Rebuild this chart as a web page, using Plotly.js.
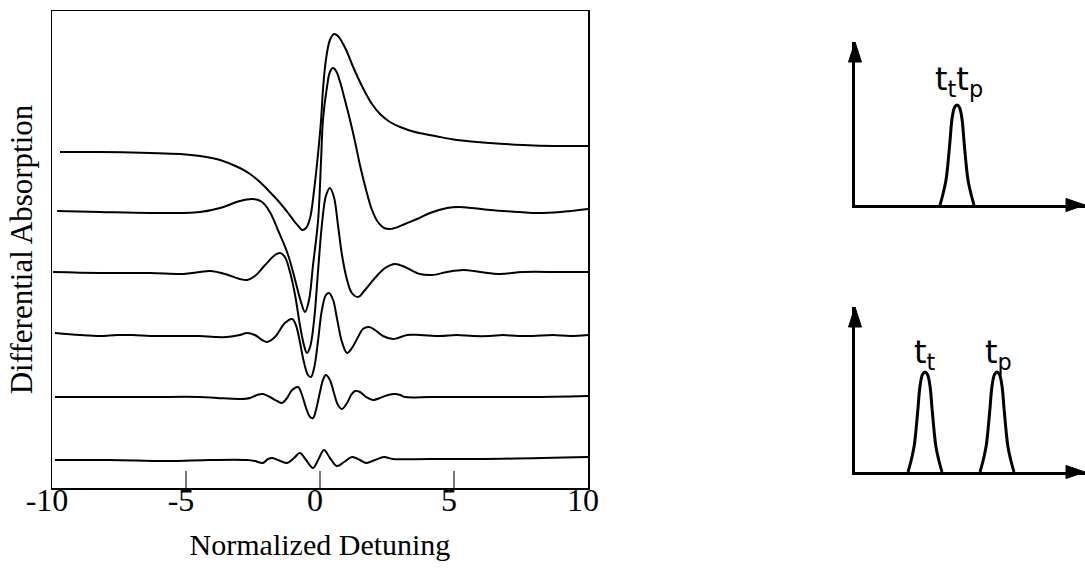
<!DOCTYPE html>
<html>
<head>
<meta charset="utf-8">
<script src="https://cdn.plot.ly/plotly-3.0.1.min.js"></script>
<style>
  html, body { margin: 0; padding: 0; background: #fff; }
  #chart { width: 1085px; height: 568px; }
</style>
</head>
<body>
<div id="chart"></div>
<script>
// ---- Data (normalized detuning vs. offset differential absorption, arb. units) ----
const det1 = [-9.70,-8.21,-6.34,-5.22,-4.48,-3.73,-2.99,-2.61,-2.24,-1.87,-1.49,-1.19,-0.97,-0.78,-0.67,-0.52,-0.37,-0.22,-0.07,0.04,0.11,0.22,0.37,0.52,0.67,0.82,1.01,1.19,1.42,1.68,1.94,2.24,2.61,2.99,3.54,4.29,5.11,6.34,7.57,8.77,10.0];
const abs1 = [336,336,335,334,332,328,320,314,306,296,285,275,267,261,258,260,270,298,335,368,398,428,448,454,452,446,436,424,410,396,384,374,366,361,356,352,348,345,343,342,342];

const det2 = [-9.81,-8.21,-6.34,-4.48,-3.73,-2.99,-2.50,-2.16,-1.87,-1.57,-1.19,-0.90,-0.71,-0.56,-0.41,-0.26,-0.07,0.04,0.11,0.26,0.37,0.49,0.60,0.75,0.93,1.12,1.31,1.49,1.72,1.94,2.16,2.39,2.61,2.91,3.17,3.62,4.10,4.74,5.22,6.34,7.46,8.10,8.96,10.0];
const abs2 = [277,276,275,276,280,287,289,286,276,258,233,205,186,176,188,223,268,328,368,401,416,420,417,406,388,368,346,323,298,278,266,260,259,261,264,269,275,280,281,278,276,275,276,279];

const det3 = [-9.96,-8.21,-6.34,-5.11,-4.48,-4.10,-3.54,-2.99,-2.72,-2.43,-2.05,-1.68,-1.49,-1.31,-1.12,-0.93,-0.75,-0.60,-0.49,-0.37,-0.22,-0.07,0.07,0.22,0.37,0.52,0.67,0.82,1.01,1.19,1.42,1.68,2.05,2.43,2.80,3.17,3.73,4.18,4.74,5.34,5.97,6.72,7.57,8.96,10.0];
const abs3 = [216,215,215,214,216,217,214,209,208,212,223,233,235,231,216,193,163,143,135,141,168,218,263,292,300,291,263,233,208,195,191,198,210,220,224,221,214,213,216,218,216,214,216,216,216];

const det4 = [-9.89,-8.96,-8.21,-7.57,-6.98,-6.34,-5.71,-5.04,-4.48,-3.92,-3.47,-2.99,-2.72,-2.43,-2.16,-1.98,-1.68,-1.31,-1.04,-0.90,-0.75,-0.60,-0.45,-0.34,-0.22,-0.07,0.07,0.22,0.34,0.49,0.63,0.82,1.01,1.19,1.42,1.60,1.83,2.05,2.35,2.72,2.91,3.25,3.73,4.48,5.11,5.71,6.34,6.83,7.39,7.95,8.69,9.33,10.0];
const abs4 = [155,153,152,153,153,152,152,152,152,151,151,153,155,153,148,146,151,165,169,163,146,126,113,111,120,148,178,193,195,188,170,146,135,140,151,159,161,158,152,149,150,153,153,152,153,152,152,153,152,152,153,152,153];

const det5 = [-9.89,-8.21,-6.34,-4.48,-3.84,-2.99,-2.61,-2.35,-2.13,-1.87,-1.60,-1.42,-1.23,-1.04,-0.82,-0.67,-0.52,-0.37,-0.26,-0.15,0.00,0.11,0.22,0.37,0.52,0.67,0.82,1.01,1.16,1.31,1.49,1.72,1.98,2.24,2.54,2.80,2.99,3.17,4.10,4.85,6.08,7.84,10.0];
const abs5 = [91,91,91,91,90,89,90,93,94,91,87,85,90,98,101,93,80,71,70,78,96,108,113,108,95,83,79,85,93,97,96,91,88,90,93,94,93,91,91,91,91,91,92];

const det6 = [-9.89,-7.84,-5.71,-4.10,-2.72,-2.43,-2.13,-1.94,-1.79,-1.57,-1.23,-0.97,-0.75,-0.52,-0.26,-0.07,0.15,0.37,0.63,0.90,1.19,1.49,1.72,2.05,2.39,2.72,4.10,6.08,10.0];
const abs6 = [28,28,27,28,28,27,25,29,30,28,25,30,35,28,20,28,38,30,22,26,31,28,25,28,31,29,29,29,31];

const detuningTicks = [-10, -5, 0, 5, 10];
const detuningTickText = ['-10', '-5', '0', '5', '10'];

// Pulse diagrams (time in arb. units, normalized intensity)
const pulseOffset = [-1.7,-1.4,-1.1,-0.9,-0.7,-0.5,-0.25,0,0.25,0.5,0.7,0.9,1.1,1.4,1.7];
const pulseShape  = [0,0.11,0.25,0.42,0.64,0.86,0.975,1,0.975,0.86,0.64,0.42,0.25,0.11,0];
const overlapCenter = 10.2;          // top panel: both pulses coincide
const testCenter = 7.0, probeCenter = 14.2;   // bottom panel: separated pulses
const labelTop = 't<sub>t</sub>t<sub>p</sub>';
const labelTest = 't<sub>t</sub>';
const labelProbe = 't<sub>p</sub>';

// ---- Geometry helpers (pixel -> paper), layout only ----
const L = 52, T = 11, W = 1033, H = 477;
const PX = p => (p - L) / W;
const PY = p => (T + H - p) / H;

const curves = [[det1,abs1],[det2,abs2],[det3,abs3],[det4,abs4],[det5,abs5],[det6,abs6]];
const traces = curves.map(([x, y]) => ({
  x: x, y: y, type: 'scatter', mode: 'lines',
  line: {color: '#000', width: 2, shape: 'spline', smoothing: 1},
  xaxis: 'x', yaxis: 'y', hoverinfo: 'skip', showlegend: false
}));

function pulse(center, xa, ya) {
  return {
    x: pulseOffset.map(o => center + o), y: pulseShape,
    type: 'scatter', mode: 'lines',
    line: {color: '#000', width: 3, shape: 'spline', smoothing: 1},
    xaxis: xa, yaxis: ya, hoverinfo: 'skip', showlegend: false, cliponaxis: false
  };
}
traces.push(pulse(overlapCenter, 'x2', 'y2'));
traces.push(pulse(testCenter, 'x3', 'y3'));
traces.push(pulse(probeCenter, 'x3', 'y3'));

const serif = 'Liberation Serif, Times New Roman, serif';
const sans = 'DejaVu Sans, sans-serif';
const insetAxisX = {showline: true, linewidth: 3, linecolor: '#000', showticklabels: false,
  ticks: '', showgrid: false, zeroline: false, range: [0, 23], fixedrange: true};
const insetAxisY = {showline: true, linewidth: 3, linecolor: '#000', showticklabels: false,
  ticks: '', showgrid: false, zeroline: false, fixedrange: true};

function head(tipX, tipY, dir) {
  let pts;
  if (dir === 'r') pts = [[tipX, tipY], [tipX - 19, tipY - 6.5], [tipX - 19, tipY + 6.5]];
  else pts = [[tipX, tipY], [tipX - 6.5, tipY + 20], [tipX + 6.5, tipY + 20]];
  const d = 'M ' + pts.map(p => PX(p[0]).toFixed(5) + ',' + PY(p[1]).toFixed(5)).join(' L ') + ' Z';
  return {type: 'path', xref: 'paper', yref: 'paper', path: d, fillcolor: '#000', line: {color: '#000', width: 1}};
}

const layout = {
  width: 1085, height: 568,
  margin: {l: L, r: 0, t: T, b: 568 - T - H, pad: 0},
  paper_bgcolor: '#fff', plot_bgcolor: 'rgba(0,0,0,0)',
  showlegend: false,
  xaxis: {
    domain: [0, PX(588)], range: [-10, 10],
    tickvals: detuningTicks, ticktext: detuningTickText,
    ticks: 'inside', ticklen: 17, tickwidth: 1.5, tickcolor: '#777',
    ticklabelstandoff: -17, ticklabelshift: -5,
    showline: true, mirror: true, linecolor: '#000', linewidth: 1.5,
    showgrid: false, zeroline: false,
    tickfont: {family: serif, size: 32, color: '#000'},
    title: {text: 'Normalized Detuning', font: {family: serif, size: 30, color: '#000'}, standoff: 17}
  },
  yaxis: {
    domain: [0, 1], range: [0, 477],
    showticklabels: false, ticks: '',
    showline: true, mirror: true, linecolor: '#000', linewidth: 1.5,
    showgrid: false, zeroline: false,
    title: {text: 'Differential Absorption', font: {family: serif, size: 31, color: '#000'}, standoff: 8}
  },
  xaxis2: Object.assign({}, insetAxisX, {domain: [PX(855), 1], anchor: 'y2'}),
  yaxis2: Object.assign({}, insetAxisY, {domain: [PY(205), PY(42)], range: [0, 1.63], anchor: 'x2'}),
  xaxis3: Object.assign({}, insetAxisX, {domain: [PX(855), 1], anchor: 'y3'}),
  yaxis3: Object.assign({}, insetAxisY, {domain: [PY(472), PY(307)], range: [0, 1.65], anchor: 'x3'}),
  shapes: [head(1085, 205, 'r'), head(855, 42, 'u'), head(1085, 472, 'r'), head(855, 307, 'u')],
  annotations: [
    {text: labelTop, x: overlapCenter + 0.2, y: 1.24, xref: 'x2', yref: 'y2', showarrow: false,
     font: {family: sans, size: 32, color: '#000'}, xanchor: 'center', yanchor: 'middle'},
    {text: labelTest, x: testCenter, y: 1.18, xref: 'x3', yref: 'y3', showarrow: false,
     font: {family: sans, size: 32, color: '#000'}, xanchor: 'center', yanchor: 'middle'},
    {text: labelProbe, x: probeCenter + 0.1, y: 1.18, xref: 'x3', yref: 'y3', showarrow: false,
     font: {family: sans, size: 32, color: '#000'}, xanchor: 'center', yanchor: 'middle'}
  ]
};

Plotly.newPlot('chart', traces, layout, {displayModeBar: false, staticPlot: true});
</script>
</body>
</html>
